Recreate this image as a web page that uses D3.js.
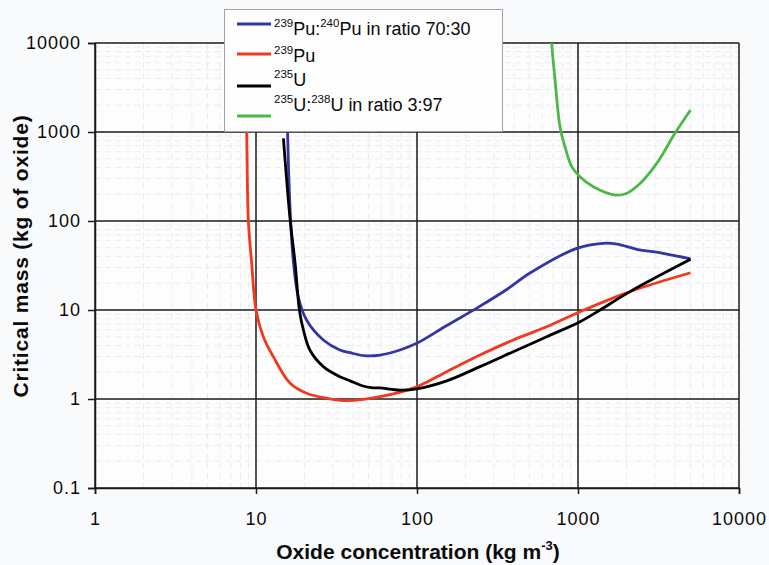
<!DOCTYPE html>
<html>
<head>
<meta charset="utf-8">
<script src="https://cdn.jsdelivr.net/npm/d3@7/dist/d3.min.js"></script>
<style>
body { margin: 0; background: #f9fafc; }
svg { display: block; font-family: "Liberation Sans", Arial, sans-serif; }
</style>
</head>
<body>
<script>
// values: [oxide concentration, critical mass]
var pu239_240 = [[15.6, 3000], [15.7, 1052], [16.4, 102.6], [17.1, 33.4], [18.3, 14.1], [20.6, 7.72], [26.2, 4.6], [33.2, 3.55], [38.4, 3.31], [47, 3.07], [58.9, 3.12], [78.4, 3.55], [99.5, 4.22], [153, 6.7], [235, 10.5], [361, 17], [503, 26], [982, 49.3], [1430, 56.2], [1750, 55], [2316, 48.1], [3375, 43.4], [5000, 37.5]];
var pu239 = [[8.55, 5000], [8.75, 975], [8.96, 102.6], [9.4, 33.7], [10, 10], [11.1, 5.01], [12.8, 2.99], [16.3, 1.5], [20.6, 1.16], [27.5, 1.02], [36.6, 0.957], [58.9, 1.06], [99.5, 1.37], [153, 2.03], [246, 3.12], [396, 4.6], [639, 6.49], [1029, 9.57], [2104, 16.1], [5000, 26.2]];
var u235 = [[14.8, 849], [16.3, 102.6], [17.5, 33.4], [18.6, 10], [19.7, 5.96], [21.6, 3.55], [26.2, 2.31], [33.2, 1.78], [38.4, 1.6], [46.2, 1.4], [52, 1.34], [58.9, 1.33], [78.4, 1.26], [99.5, 1.3], [153, 1.6], [246, 2.31], [396, 3.4], [639, 5.01], [1029, 7.39], [1370, 10], [2104, 16.1], [5000, 37.1]];
var u235_238 = [[680, 14000], [686, 10000], [720, 3840], [773, 1148], [830, 684], [914, 408], [1028, 315], [1245, 243], [1698, 196], [1997, 204], [2427, 264], [3083, 444], [4000, 966], [5000, 1766]];

var xTicks = [1, 10, 100, 1000, 10000];
var yTicks = [0.1, 1, 10, 100, 1000, 10000];

var series = [
  {data: pu239_240, colour: "#3535a3", label: [["239", "sup"], ["Pu:", ""], ["240", "sup"], ["Pu in ratio 70:30", ""]]},
  {data: pu239, colour: "#f2391f", label: [["239", "sup"], ["Pu", ""]]},
  {data: u235, colour: "#000000", label: [["235", "sup"], ["U", ""]]},
  {data: u235_238, colour: "#4db848", label: [["235", "sup"], ["U:", ""], ["238", "sup"], ["U in ratio 3:97", ""]]}
];

var W = 769, H = 565;
var plotL = 95, plotR = 739, plotT = 43, plotB = 488;

var svg = d3.select("body").append("svg").attr("width", W).attr("height", H);

var x = d3.scaleLog().domain([1, 10000]).range([plotL, plotR]);
var y = d3.scaleLog().domain([0.1, 10000]).range([plotB, plotT]);

svg.append("rect").attr("x", plotL).attr("y", plotT).attr("width", plotR - plotL).attr("height", plotB - plotT).attr("fill", "#fdfdfe");

// minor grid
var minorX = [], minorY = [];
x.ticks().forEach(function(t){ if (xTicks.indexOf(t) < 0) minorX.push(t); });
y.ticks().forEach(function(t){ if (yTicks.indexOf(t) < 0) minorY.push(t); });

svg.append("g").selectAll("line").data(minorX).enter().append("line")
  .attr("x1", function(d){ return x(d); }).attr("x2", function(d){ return x(d); })
  .attr("y1", plotT).attr("y2", plotB)
  .attr("stroke", "#e8ecf2").attr("stroke-width", 1).attr("stroke-dasharray", "6,4");
svg.append("g").selectAll("line").data(minorY).enter().append("line")
  .attr("x1", plotL).attr("x2", plotR)
  .attr("y1", function(d){ return y(d); }).attr("y2", function(d){ return y(d); })
  .attr("stroke", "#e8ecf2").attr("stroke-width", 1).attr("stroke-dasharray", "6,4");

// major grid
svg.append("g").selectAll("line").data(xTicks).enter().append("line")
  .attr("x1", function(d){ return x(d); }).attr("x2", function(d){ return x(d); })
  .attr("y1", plotT).attr("y2", plotB)
  .attr("stroke", "#1a1a1a").attr("stroke-width", 1.5);
svg.append("g").selectAll("line").data(yTicks).enter().append("line")
  .attr("x1", plotL).attr("x2", plotR)
  .attr("y1", function(d){ return y(d); }).attr("y2", function(d){ return y(d); })
  .attr("stroke", "#1a1a1a").attr("stroke-width", 1.5);

// axes
var fmt = function(d){ return String(d); };
var gy = svg.append("g").attr("transform", "translate(" + plotL + ",0)")
  .call(d3.axisLeft(y).tickValues(yTicks).tickFormat(fmt).tickSize(7).tickPadding(7));
var gx = svg.append("g").attr("transform", "translate(0," + plotB + ")")
  .call(d3.axisBottom(x).tickValues(xTicks).tickFormat(fmt).tickSize(6).tickPadding(18));
[gx, gy].forEach(function(g){
  g.select(".domain").attr("stroke", "#1a1a1a").attr("stroke-width", 1.5);
  g.selectAll(".tick line").attr("stroke", "#1a1a1a").attr("stroke-width", 1.5);
  g.selectAll(".tick text").attr("fill", "#0a0a0a").style("font-size", "18px").style("letter-spacing", "1px")
    .style("font-family", "'Liberation Sans', Arial, sans-serif");
});

// curves
svg.append("clipPath").attr("id", "plot").append("rect")
  .attr("x", plotL).attr("y", plotT).attr("width", plotR - plotL).attr("height", plotB - plotT);
var line = d3.line().x(function(d){ return x(d[0]); }).y(function(d){ return y(d[1]); })
  .curve(d3.curveCatmullRom.alpha(0.5));
svg.append("g").attr("clip-path", "url(#plot)").selectAll("path").data(series).enter().append("path")
  .attr("d", function(s){ return line(s.data); })
  .attr("fill", "none").attr("stroke", function(s){ return s.colour; })
  .attr("stroke-width", 2.8).attr("stroke-linejoin", "round");

// legend
var legend = svg.append("g");
legend.append("rect").attr("x", 224.5).attr("y", 9.5).attr("width", 278).attr("height", 122)
  .attr("fill", "#fdfdfe").attr("stroke", "#a0a0a8").attr("stroke-width", 1);
var lineY = [24, 54, 86, 116], textY = [35, 62, 86, 111];
series.forEach(function(s, i){
  legend.append("line").attr("x1", 237).attr("x2", 271).attr("y1", lineY[i]).attr("y2", lineY[i])
    .attr("stroke", s.colour).attr("stroke-width", 3);
  var t = legend.append("text").attr("x", 274).attr("y", textY[i]).attr("fill", "#0a0a0a").style("font-size", "18px");
  s.label.forEach(function(p){
    t.append("tspan").text(p[0])
      .attr("dy", p[1] == "sup" ? -8 : 8)
      .style("font-size", p[1] == "sup" ? "11.5px" : "18px");
  });
  t.select("tspan").attr("dy", -8);
});

// axis titles
svg.append("text").attr("transform", "translate(28,256) rotate(-90)").attr("text-anchor", "middle")
  .attr("fill", "#0a0a0a").style("font-size", "21px").style("font-weight", "bold").style("letter-spacing", "0.8px")
  .text("Critical mass (kg of oxide)");
var xt = svg.append("text").attr("x", 418).attr("y", 559).attr("text-anchor", "middle")
  .attr("fill", "#0a0a0a").style("font-size", "21px").style("font-weight", "bold");
xt.append("tspan").text("Oxide concentration (kg m");
xt.append("tspan").text("-3").attr("dy", -9).style("font-size", "13px");
xt.append("tspan").text(")").attr("dy", 9);
</script>
</body>
</html>
